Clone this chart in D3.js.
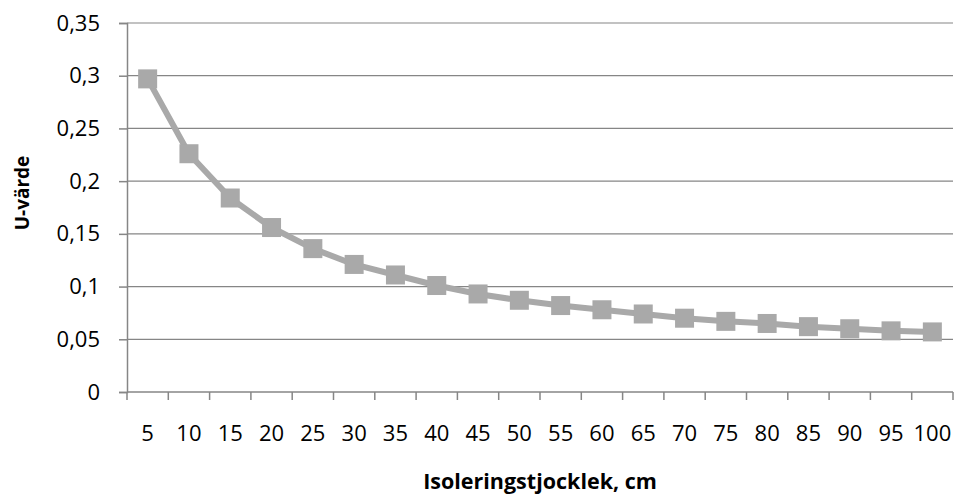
<!DOCTYPE html>
<html>
<head>
<meta charset="utf-8">
<script src="https://cdn.jsdelivr.net/npm/d3@7"></script>
<style>
    body { margin: 0; background: #fff; }
    svg { display: block; }
    text { font-family: "Open Sans", sans-serif; fill: #000; }
</style>
</head>
<body>
<svg id="chart" width="955" height="497"></svg>
<script>
// insulation thickness (cm) and resulting U-value
const thickness = [5, 10, 15, 20, 25, 30, 35, 40, 45, 50, 55, 60, 65, 70, 75, 80, 85, 90, 95, 100];
const uValues = [0.297, 0.226, 0.184, 0.156, 0.136, 0.121, 0.111, 0.101, 0.093, 0.087,
    0.082, 0.078, 0.074, 0.070, 0.067, 0.065, 0.062, 0.060, 0.058, 0.057];
const yTicks = [0, 0.05, 0.1, 0.15, 0.2, 0.25, 0.3, 0.35];

const plotLeft = 127, plotRight = 953, plotTop = 23, plotBottom = 392;
const gray = "#868686";
const lineColor = "#A9A9A9";

const svg = d3.select("#chart");

const xScale = d3.scaleBand()
    .domain(thickness)
    .range([plotLeft, plotRight]);

const yScale = d3.scaleLinear()
    .domain([0, 0.35])
    .range([plotBottom, plotTop]);

const fmt = function (d) { return String(d).replace(".", ","); };

// gridlines
svg.append("g")
    .selectAll("line")
    .data(yTicks.filter(function (d) { return d > 0; }))
    .join("line")
    .attr("x1", plotLeft)
    .attr("x2", plotRight)
    .attr("y1", function (d) { return yScale(d); })
    .attr("y2", function (d) { return yScale(d); })
    .attr("stroke", gray)
    .attr("stroke-width", 1.2);

// y-axis
const yAxis = svg.append("g")
    .attr("transform", `translate(${plotLeft}, 0)`)
    .call(d3.axisLeft(yScale).tickValues(yTicks).tickFormat(fmt).tickSize(8).tickPadding(19));
yAxis.selectAll("line, path").attr("stroke", gray).attr("stroke-width", 1.5);
yAxis.selectAll("text").style("font-size", "22px").attr("fill", "#000");

// x-axis: ticks on category borders
const xAxis = svg.append("g")
    .attr("transform", `translate(0, ${plotBottom})`);
xAxis.append("line")
    .attr("x1", plotLeft).attr("x2", plotRight)
    .attr("stroke", gray).attr("stroke-width", 1.5);
xAxis.selectAll(".tick")
    .data(thickness.concat(["end"]))
    .join("line")
    .attr("class", "tick")
    .attr("x1", function (d, i) { return plotLeft + i * xScale.step(); })
    .attr("x2", function (d, i) { return plotLeft + i * xScale.step(); })
    .attr("y1", 0)
    .attr("y2", 8)
    .attr("stroke", gray)
    .attr("stroke-width", 1.5);
xAxis.selectAll(".label")
    .data(thickness)
    .join("text")
    .attr("class", "label")
    .attr("x", function (d) { return xScale(d) + xScale.bandwidth() / 2; })
    .attr("y", 49)
    .attr("text-anchor", "middle")
    .style("font-size", "22px")
    .text(function (d) { return d; });

// line
svg.append("path")
    .datum(uValues)
    .attr("fill", "none")
    .attr("stroke", lineColor)
    .attr("stroke-width", 6)
    .attr("stroke-linejoin", "round")
    .attr("d", d3.line()
        .x(function (d, i) { return xScale(thickness[i]) + xScale.bandwidth() / 2; })
        .y(function (d) { return yScale(d); }));

// square markers
const markerSize = 19;
svg.append("g")
    .selectAll("rect")
    .data(uValues)
    .join("rect")
    .attr("x", function (d, i) { return xScale(thickness[i]) + xScale.bandwidth() / 2 - markerSize / 2; })
    .attr("y", function (d) { return yScale(d) - markerSize / 2; })
    .attr("width", markerSize)
    .attr("height", markerSize)
    .attr("fill", lineColor);

// axis titles
svg.append("text")
    .attr("x", 540)
    .attr("y", 489)
    .attr("text-anchor", "middle")
    .style("font-size", "21.5px")
    .style("font-weight", "bold")
    .text("Isoleringstjocklek, cm");

svg.append("text")
    .attr("transform", "translate(29, 193) rotate(-90)")
    .attr("text-anchor", "middle")
    .style("font-size", "19px")
    .style("font-weight", "bold")
    .text("U-värde");
</script>
</body>
</html>
